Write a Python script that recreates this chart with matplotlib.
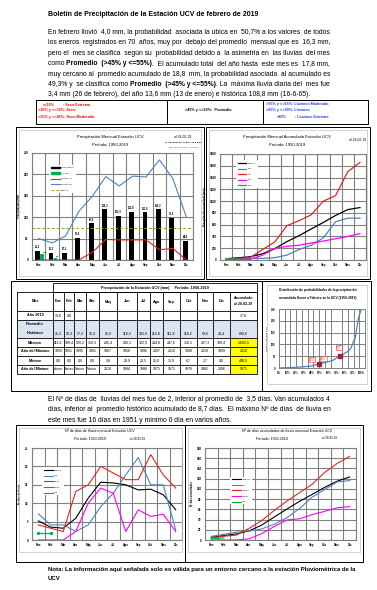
import matplotlib
matplotlib.use('Agg')
import matplotlib.pyplot as plt
from matplotlib.patches import Rectangle, Patch
from matplotlib.lines import Line2D

plt.rcParams['font.family'] = 'Liberation Sans'

meses = ['Ene', 'Feb', 'Mar', 'Abr', 'May', 'Jun', 'Jul', 'Ago', 'Sep', 'Oct', 'Nov', 'Dic']

# precipitacion mensual (mm)
prom_hist = [21.3, 16.3, 17.3, 52.4, 85.9, 118.3, 102.9, 112.8, 111.8, 118.2, 98.6, 44.4]
lluvia_2019 = [13.6, 4.0]
perc_bajo = [0, 0, 0, 0, 18, 48, 47, 47, 47, 24, 27, 0]
perc_alto = [50, 40, 56, 114, 149, 195, 173, 196, 194, 234, 190, 101]
prom_anual = 74.2

# precipitacion acumulada (mm)
acum_prom = [21, 38, 55, 107, 193, 312, 414, 527, 639, 757, 856, 890]
acum_2018 = [11, 22, 28, 28, 39, 83, 178, 250, 378, 650, 711, 711]
acum_2010 = [11, 28, 44, 178, 306, 583, 667, 767, 1000, 1094, 1500, 1655]
acum_1971 = [11, 11, 11, 83, 194, 233, 250, 289, 322, 361, 400, 448]
acum_2019 = [13.6, 17.8]

# tabla
fila_2019 = ['13,6', '4,0', '', '', '', '', '', '', '', '', '', '', '17,8']
fila_prom = ['21,3', '16,3', '17,3', '52,4', '85,9', '118,3', '102,9', '112,8', '111,8', '118,2', '98,6', '44,4', '890,6']
fila_max = ['111,6', '189,4', '129,2', '319,3', '285,4', '290,1', '322,9', '244,8', '247,6', '319,1', '407,3', '189,4', '1.655,5']
fila_anio_max = ['1950', '1951', '1995', '1981', '1967', '1958', '1996', '2007', '2010', '1988', '2010', '1999', '2010']
fila_min = ['0,0', '0,0', '0,0', '0,0', '5,8', '29,9', '20,5', '25,0', '31,9', '6,7', '1,7', '0,0', '448,5']
fila_anio_min = ['Varios', 'Varios', 'Varios', 'Varios', '2018', '1984', '1986', '1971', '1971', '1976', '1982', '2006', '1971']

# distribucion de probabilidad del acumulado Ene-Feb
prob_pct = [0, 10, 20, 30, 40, 48, 55, 65, 75, 84, 88, 91, 93, 97, 100]
prob_mm = [0, 1.5, 3, 5, 9, 17, 22, 31, 52, 70, 85, 113, 127, 212, 244]
marcas_pct = [49.3, 75]
marcas_mm = [17.8, 52]

# dias de lluvia mensual
dias_prom = [5.2, 3.5, 3.2, 5.9, 11.4, 15.7, 15.5, 15.0, 13.6, 13.8, 12.3, 8.2]
dias_2018 = [7.1, 4.1, 4.1, 2.3, 4.1, 9.1, 12.7, 17.7, 22.4, 15.0, 15.0, 2.7]
dias_max = [4.1, 3.2, 2.3, 13.2, 15.0, 20.0, 18.2, 16.4, 16.4, 23.2, 17.7, 14.1]
dias_min = [0, 0, 0, 2.3, 10.0, 14.1, 12.7, 2.3, 8.2, 6.4, 7.0, 2.3]
dias_2019 = [2, 2]

# dias de lluvia acumulados
acum_dias_prom = [5.2, 8.7, 11.9, 17.8, 29.2, 44.9, 60.4, 75.4, 89.0, 102.8, 115.1, 123.3]
acum_dias_2018 = [7.1, 11.2, 15.3, 17.6, 21.7, 30.8, 43.5, 61.2, 83.6, 98.6, 113.6, 116.3]
acum_dias_max = [4.1, 7.3, 9.6, 22.8, 37.8, 57.8, 76.0, 92.4, 108.8, 132.0, 149.7, 163.8]
acum_dias_min = [0, 0, 0, 2.3, 12.3, 26.4, 39.1, 41.4, 49.6, 56.0, 63.0, 65.3]
acum_dias_2019 = [2, 4]

AZUL = '#4f81bd'
ROJO = '#e8231f'
VERDE = '#00b050'
MAGENTA = '#ff00ff'
GRIS = '#808080'

W, H = 377, 590
fig = plt.figure(figsize=(W / 100, H / 100), dpi=100)
renderer = fig.canvas.get_renderer()


def fx(x):
    return x / W


def fy(y):
    return 1 - y / H


def caja(x0, y0, x1, y1, color='black', lw=0.7, fc=None, z=1):
    fig.add_artist(Rectangle((fx(x0), fy(y1)), (x1 - x0) / W, (y1 - y0) / H,
                             transform=fig.transFigure, fill=fc is not None,
                             facecolor=fc if fc else 'none', edgecolor=color, lw=lw, zorder=z))


def linea(x0, y0, x1, y1, color='black', lw=0.7):
    fig.add_artist(Line2D([fx(x0), fx(x1)], [fy(y0), fy(y1)], transform=fig.transFigure,
                          color=color, lw=lw))


def txt(x, y, s, size=3, ha='left', va='center', **kw):
    return fig.text(fx(x), fy(y), s, fontsize=size, ha=ha, va=va, **kw)


def ancho(s, size, peso='normal'):
    t = fig.text(0, 0, s, fontsize=size, fontweight=peso)
    w = t.get_window_extent(renderer).width
    t.remove()
    return w


def palabras(segs):
    out = []
    pegar = False
    for texto, negrita in segs:
        partes = texto.split(' ')
        for i, p in enumerate(partes):
            if p == '':
                continue
            if i == 0 and pegar and out:
                out[-1].append((p, negrita))
            else:
                out.append([(p, negrita)])
        pegar = not texto.endswith(' ')
    return out


def ancho_palabra(w, size):
    return sum(ancho(p, size, 'bold' if b else 'normal') for p, b in w)


def parrafo(lineas, x0, x1, y0, dy, size_max):
    # una sola cadena por tramo de igual peso; justificado con espacios extra
    s0 = 5.0
    esp0 = ancho('a a', s0) - ancho('aa', s0)
    nat = []
    for segs in lineas[:-1]:
        pals = palabras(segs)
        nat.append(sum(ancho_palabra(w, s0) for w in pals) + esp0 * (len(pals) - 1))
    size = min(size_max, s0 * (x1 - x0) / max(nat))
    esp = ancho('a a', size) - ancho('aa', size)
    for k, segs in enumerate(lineas):
        y = y0 + k * dy
        pals = palabras(segs)
        ngap = len(pals) - 1
        huecos = [1] * ngap
        if k < len(lineas) - 1:
            natural = sum(ancho_palabra(w, size) for w in pals) + esp * ngap
            extra = max(0, int(round((x1 - x0 - natural) / esp)))
            for j in range(extra):
                huecos[int((j + 0.5) * ngap / extra)] += 1
        # tramos de igual peso
        tramos = []
        for i, w in enumerate(pals):
            for p, b in w:
                if tramos and tramos[-1][1] == b:
                    tramos[-1][0] += p
                else:
                    tramos.append([p, b])
            if i < ngap:
                tramos[-1][0] += ' ' * huecos[i]
        x = x0
        for s, b in tramos:
            peso = 'bold' if b else 'normal'
            txt(x, y, s, size, va='baseline', fontweight=peso)
            sin = s.rstrip(' ')
            x += ancho(sin, size, peso) + (len(s) - len(sin)) * esp


def ejes(x0, y0, x1, y1):
    return fig.add_axes([fx(x0), fy(y1), (x1 - x0) / W, (y1 - y0) / H])


def estilo_mensual(ax, ymax, paso, ylabel):
    ax.set_xlim(-0.5, 11.5)
    ax.set_ylim(0, ymax)
    ax.set_yticks(range(0, ymax + 1, paso))
    ax.set_xticks(range(12))
    ax.set_xticklabels(meses)
    ax.set_xticks([i - 0.5 for i in range(13)], minor=True)
    ax.grid(True, which='minor', axis='x', color=GRIS, lw=0.8)
    ax.grid(True, which='major', axis='y', color=GRIS, lw=0.8)
    ax.set_axisbelow(True)
    ax.tick_params(which='both', length=0, labelsize=2.2, pad=2.5)
    for lab in ax.get_xticklabels() + ax.get_yticklabels():
        lab.set_fontweight('bold')
    for s in ax.spines.values():
        s.set_color(GRIS)
        s.set_linewidth(0.8)
    ax.set_ylabel(ylabel, fontsize=1.9, labelpad=2, fontweight='bold')


def leyenda(ax, handles, labels, x, y):
    lg = ax.legend(handles, labels, loc='upper left', bbox_to_anchor=(x, y), fontsize=1.4,
                   handlelength=4.5, labelspacing=2.2, borderpad=1.0, frameon=True,
                   edgecolor='none', facecolor='white', framealpha=1)
    lg.set_zorder(10)


# ---- titulo y texto ----
txt(48, 16, 'Boletín de Precipitación de la Estación UCV de febrero de 2019', 5.0,
    va='baseline', fontweight='bold')

p1 = [
    [('En febrero llovió 4,0 mm, la probabilidad asociada la ubica en 50,7% a los valores de todos', False)],
    [('los eneros registrados en 70 años, muy por debajo del promedio mensual que es 16,3 mm,', False)],
    [('pero el mes se clasifica según su probabilidad debido a la asimetría en las lluvias del mes', False)],
    [('como ', False), ('Promedio (>45% y <=55%)', True),
     ('. El acumulado total del año hasta este mes es 17,8 mm,', False)],
    [('muy cercano al promedio acumulado de 18,8 mm, la probabilidad asociada al acumulado es', False)],
    [('49,3% y se clasifica como ', False), ('Promedio (>45% y <=55%)', True),
     ('. La máxima lluvia diaria del mes fue', False)],
    [('3,4 mm (26 de febrero), del año 13,6 mm (13 de enero) e histórica 108,8 mm (16-6-65).', False)],
]
parrafo(p1, 48, 330, 34, 10.4, 6.5)

# ---- leyenda de clasificacion ----
caja(36, 100, 368, 124)
linea(167, 100, 167, 124)
linea(263, 100, 263, 124)
rojo_cls = '#ff0000'
azul_cls = '#1f3fd8'
txt(43, 104.5, '<=10%', 2.7, color=rojo_cls, fontweight='bold')
txt(63, 104.5, ': Seco Extremo', 2.7, color=rojo_cls, fontweight='bold')
txt(38, 110.5, '>10% y <=35%: Seco', 2.7, color=rojo_cls, fontweight='bold')
txt(38, 116.5, '>35% y <=45%: Seco Moderado', 2.7, color=rojo_cls, fontweight='bold')
txt(185, 110.5, '>45% y <=55%:  Promedio', 2.7, fontweight='bold')
txt(266, 104.5, '>55% y <=65%: Lluvioso Moderado', 2.7, color=azul_cls, fontweight='bold')
txt(266, 110.5, '>65% y <=90%: Lluvioso', 2.7, color=azul_cls, fontweight='bold')
txt(277, 116.5, '>90%', 2.7, color=azul_cls, fontweight='bold')
txt(295, 116.5, ': Lluvioso Extremo', 2.7, color=azul_cls, fontweight='bold')

# ---- graficos superiores ----
caja(16, 127, 204, 279)
caja(206, 127, 370, 279)
caja(19, 130, 201, 276, color='#c0c0c0', lw=0.5)
caja(209, 130, 367, 276, color='#c0c0c0', lw=0.5)

ax1 = ejes(32, 153, 193, 260)
estilo_mensual(ax1, 250, 50, 'Precipitación (mm)')
xs = list(range(12))
ax1.bar([x - 0.08 for x in xs], prom_hist, width=0.36, color='black', zorder=3)
ax1.bar([x + 0.25 for x in range(len(lluvia_2019))], lluvia_2019, width=0.26, color=VERDE, zorder=3)
ax1.plot(xs, perc_bajo, color=ROJO, lw=0.8, zorder=4)
ax1.plot(xs, perc_alto, color=AZUL, lw=0.8, zorder=4)
ax1.axhline(prom_anual, color='#9c9c28', lw=0.7, ls=(0, (3, 2)), zorder=4)
for x, v in zip(xs, prom_hist):
    ax1.text(x - 0.08, v + 5, f'{v:.1f}'.replace('.', ','), fontsize=1.9, ha='center',
             va='bottom', fontweight='bold', zorder=5)
for x, v in enumerate(lluvia_2019):
    ax1.text(x + 0.3, v + 3, f'{v:.1f}'.replace('.', ','), fontsize=1.6, ha='left',
             va='bottom', fontweight='bold', zorder=5)
leyenda(ax1,
        [Patch(color='black'), Patch(color=VERDE), Line2D([], [], color=ROJO, lw=0.8),
         Line2D([], [], color=AZUL, lw=0.8), Line2D([], [], color='#9c9c28', lw=0.7, ls=(0, (3, 2)))],
        ['Prom. Histórico', 'Año 2019', 'Percentil 10%', 'Percentil 90%', 'Promedio'], 0.1, 0.9)
txt(110, 137, 'Precipitación Mensual Estación UCV', 3.0, ha='center')
txt(110, 145, 'Período: 1950-2019', 3.0, ha='center')
txt(183, 137, 'al 28-02-19', 2.4, ha='center')
txt(183, 142, 'Prom. Mensual Acum.: 18,8 mm', 1.7, ha='center', fontweight='bold')
txt(183, 147, 'Año 2019 Acum.: 17,8 mm', 1.7, ha='center', fontweight='bold', color=VERDE)

ax2 = ejes(220, 154, 366, 260)
estilo_mensual(ax2, 1800, 200, 'Precipitación acumulada (mm)')
ax2.plot(xs, acum_prom, color='black', lw=0.9)
ax2.plot(xs, acum_2018, color=AZUL, lw=0.9)
ax2.plot(xs, acum_2010, color=ROJO, lw=0.9)
ax2.plot(xs, acum_1971, color=MAGENTA, lw=0.9)
ax2.plot(range(len(acum_2019)), acum_2019, color=VERDE, lw=0.9, marker='s', ms=1)
leyenda(ax2, [Line2D([], [], color=c, lw=0.9) for c in ['black', AZUL, ROJO, MAGENTA, VERDE]],
        ['Promedio', '2018', '2010', '1971', '2019'], 0.1, 0.95)
txt(287, 137, 'Precipitación Mensual Acumulada Estación UCV', 3.0, ha='center')
txt(287, 145, 'Período: 1950-2019', 3.0, ha='center')
txt(358, 140, 'al 28-02-19', 2.4, ha='center')

# ---- tabla ----
caja(11, 281, 262, 391)
caja(262, 281, 371, 391)
cols = [17, 53, 64, 74, 86, 99, 117, 137, 150, 163, 180, 197, 213, 230, 257]
filas = [292, 311, 320, 338, 347, 356, 365, 374]
AZUL_CLARO = '#dbe5f1'
AMARILLO = '#ffff00'
caja(cols[0], filas[2], cols[-1], filas[3], color='none', fc=AZUL_CLARO, z=0)
for r in range(3, 7):
    caja(cols[-2], filas[r], cols[-1], filas[r + 1], color='none', fc=AMARILLO, z=0)
caja(cols[1], 283, cols[-1], filas[0], lw=0.6)
caja(cols[0], filas[0], cols[-1], filas[-1], lw=0.6)
for y in filas[1:-1]:
    linea(cols[0], y, cols[-1], y, lw=0.6)
for x in cols[1:-1]:
    linea(x, filas[0], x, filas[-1], lw=0.6)
txt((cols[1] + cols[-1]) / 2, 287.5, 'Precipitación de la Estación UCV (mm)     Período: 1950-2019', 2.7,
    ha='center', fontweight='bold')
txt(35, 301.5, 'Mes', 2.8, ha='center', fontweight='bold')
for i, m in enumerate(meses):
    txt((cols[i + 1] + cols[i + 2]) / 2, 301.5, m, 2.7, ha='center', fontweight='bold')
txt((cols[-2] + cols[-1]) / 2, 298, 'Acumulado', 2.5, ha='center', fontweight='bold')
txt((cols[-2] + cols[-1]) / 2, 304, 'al 28-02-19', 2.5, ha='center', fontweight='bold')
txt(35, 324, 'Promedio', 2.8, ha='center', fontweight='bold')
txt(35, 333.5, 'Histórico', 2.8, ha='center', fontweight='bold')
etiquetas = ['Año 2019', None, 'Máximo', 'Año del Máximo', 'Mínimo', 'Año del Mínimo']
valores = [fila_2019, fila_prom, fila_max, fila_anio_max, fila_min, fila_anio_min]
for r, (et, vals) in enumerate(zip(etiquetas, valores)):
    y0, y1 = filas[r + 1], filas[r + 2]
    yc = (y0 + y1) / 2 if et else y1 - 4
    if et:
        txt(35, yc, et, 2.7, ha='center', fontweight='bold')
    for i, v in enumerate(vals):
        txt((cols[i + 1] + cols[i + 2]) / 2, yc, v, 2.6, ha='center')

# ---- distribucion de probabilidad ----
caja(267, 285, 367, 384, color='#c0c0c0', lw=0.5)
ax5 = ejes(279, 309, 365, 368)
ax5.plot(prob_pct, prob_mm, color=AZUL, lw=0.9)
ax5.plot(marcas_pct, marcas_mm, ls='none', marker='s', ms=2.2, color='#a0203c', mec='#a0203c')
ax5.set_xlim(0, 105)
ax5.set_ylim(0, 250)
ax5.set_xticks(range(0, 101, 10))
ax5.set_xticklabels([f'{p}%' for p in range(0, 101, 10)])
ax5.set_yticks(range(0, 251, 50))
ax5.set_xticks(range(0, 106, 7), minor=True)
ax5.grid(True, which='minor', axis='x', color=GRIS, lw=0.7)
ax5.grid(True, which='major', axis='y', color=GRIS, lw=0.7)
ax5.set_axisbelow(True)
ax5.tick_params(which='both', length=0, labelsize=2.0, pad=2.5)
for lab in ax5.get_xticklabels() + ax5.get_yticklabels():
    lab.set_fontweight('bold')
for s in ax5.spines.values():
    s.set_color(GRIS)
    s.set_linewidth(0.7)
ax5.set_ylabel('Lluvia acumulada (mm)', fontsize=1.7, labelpad=2)
caja_lbl = dict(boxstyle='square,pad=0.3', fc='white', ec=ROJO, lw=0.4)
ax5.text(marcas_pct[0] - 9, marcas_mm[0] + 14, '17,8', fontsize=1.8, color=ROJO, ha='center', bbox=caja_lbl)
ax5.text(marcas_pct[0] + 5, marcas_mm[0] + 18, '49,3', fontsize=1.8, color=ROJO, ha='center', bbox=caja_lbl)
ax5.text(marcas_pct[1] - 2, marcas_mm[1] + 30, '52,0', fontsize=1.8, color=ROJO, ha='center', bbox=caja_lbl)
txt(318, 290, 'Distribución de probabilidades de la precipitación', 2.3, ha='center', fontweight='bold')
txt(318, 298, 'acumulada Enero a Febrero en la UCV (1950-2019)', 2.3, ha='center', fontweight='bold')

# ---- segundo texto ----
p2 = [
    [('El Nº de días de lluvias del mes fue de 2, inferior al promedio de 3,5 días. Van acumulados 4', False)],
    [('días, inferior al promedio histórico acumulado de 8,7 días. El máximo Nº de días de lluvia en', False)],
    [('este mes fue 16 días en 1951 y mínimo 0 día en varios años.', False)],
]
parrafo(p2, 48, 330, 401, 10.4, 6.5)

# ---- graficos inferiores ----
caja(16, 425, 185, 562)
caja(185, 425, 363, 562)
caja(19, 428, 182, 552, color='#c0c0c0', lw=0.5)
caja(188, 428, 360, 552, color='#c0c0c0', lw=0.5)

ax3 = ejes(32, 448, 182, 540)
estilo_mensual(ax3, 25, 5, 'Nº días de lluvia')
ax3.plot(xs, dias_prom, color='black', lw=0.8)
ax3.plot(xs, dias_2018, color=AZUL, lw=0.8)
ax3.plot(xs, dias_max, color=ROJO, lw=0.8)
ax3.plot(xs, dias_min, color=MAGENTA, lw=0.8)
ax3.plot(range(len(dias_2019)), dias_2019, color=VERDE, lw=0.9, marker='s', ms=1.2)
leyenda(ax3, [Line2D([], [], color=c, lw=0.8) for c in ['black', AZUL, ROJO, MAGENTA, VERDE]],
        ['Promedio', '2018', 'Máximo', 'Mínimo', '2019'], 0.06, 0.8)
txt(100, 431, 'Nº de días de lluvia mensual Estación UCV', 2.6, ha='center')
txt(90, 439, 'Período: 1950-2019', 2.6, ha='center')
txt(138, 439, 'al 28-02-19', 2.2, ha='center')

ax4 = ejes(205, 448, 356, 540)
estilo_mensual(ax4, 180, 20, 'Nº días acumulados')
ax4.plot(xs, acum_dias_prom, color='black', lw=0.8)
ax4.plot(xs, acum_dias_2018, color=AZUL, lw=0.8)
ax4.plot(xs, acum_dias_max, color=ROJO, lw=0.8)
ax4.plot(xs, acum_dias_min, color=MAGENTA, lw=0.8)
ax4.plot(range(len(acum_dias_2019)), acum_dias_2019, color=VERDE, lw=0.9)
leyenda(ax4, [Line2D([], [], color=c, lw=0.8) for c in ['black', AZUL, ROJO, MAGENTA, VERDE]],
        ['Promedio', '2018', 'Máximo', 'Mínimo', '2019'], 0.16, 0.7)
txt(287, 431, 'Nº de días acumulados de lluvia mensual Estación UCV', 2.6, ha='center')
txt(272, 439, 'Período: 1950-2019', 2.6, ha='center')
txt(330, 438, 'al 28-02-19', 2.2, ha='center')

# ---- nota ----
txt(48, 571, 'Nota: La información aquí señalada solo es válida para un entorno cercano a la estación Pluviométrica de la',
    4.3, va='baseline', fontweight='bold')
txt(48, 580, 'UCV', 4.3, va='baseline', fontweight='bold')

fig.savefig('out.png', dpi=100)
